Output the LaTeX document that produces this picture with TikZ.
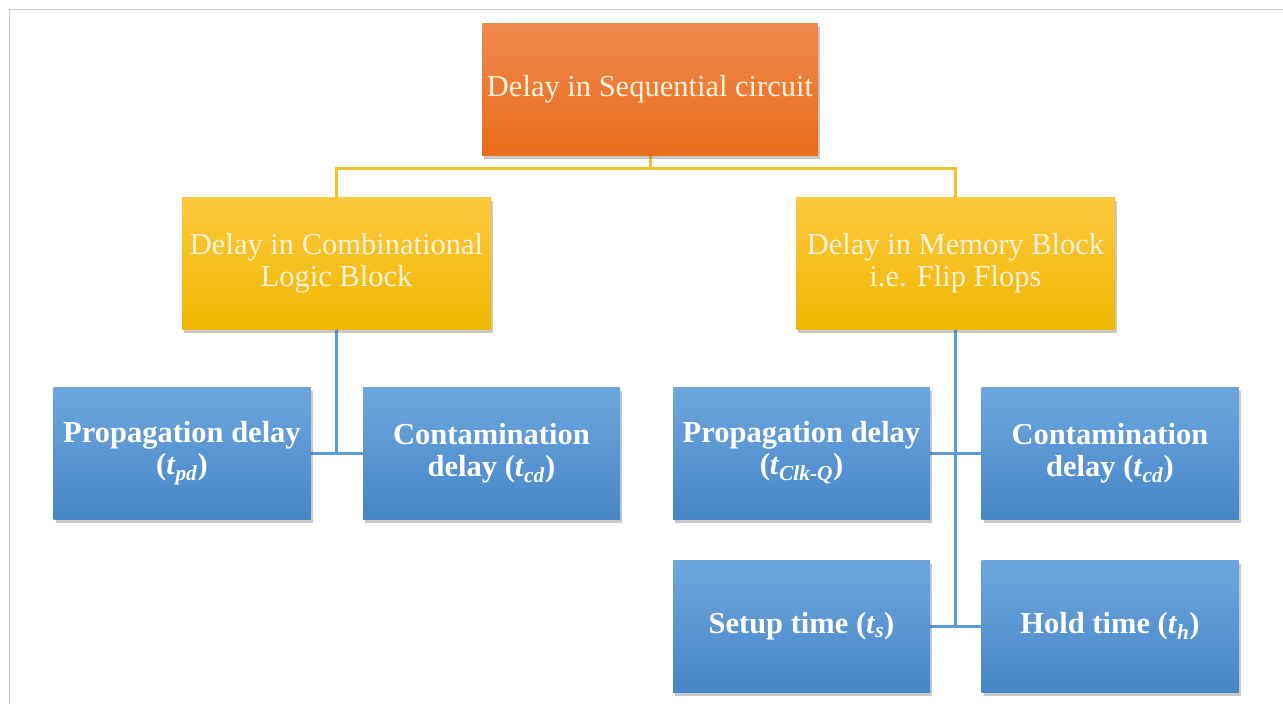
\documentclass[tikz,border=0pt]{standalone}
\usepackage{fontspec}
\setmainfont{Liberation Serif}
\usetikzlibrary{shadows,backgrounds}
\definecolor{orgtop}{HTML}{F08A4E}
\definecolor{orgbot}{HTML}{E96C1C}
\definecolor{goldtop}{HTML}{FCC83E}
\definecolor{goldbot}{HTML}{F0B700}
\definecolor{bluetop}{HTML}{6EA7DE}
\definecolor{bluebot}{HTML}{4685C6}
\definecolor{cream}{HTML}{FFF3DC}
\definecolor{yline}{HTML}{F2C12E}
\definecolor{bline}{HTML}{5B9BD5}
\definecolor{frame}{HTML}{C8C8C8}
\tikzset{
  box/.style={rectangle, inner sep=0pt, align=center, minimum height=132pt,
    drop shadow={shadow xshift=2pt, shadow yshift=-4pt, opacity=0.3, fill=black!70}},
  rootbox/.style={box, top color=orgtop, bottom color=orgbot, text=cream,
    font=\fontsize{30.5}{32}\selectfont},
  midbox/.style={box, top color=goldtop, bottom color=goldbot, text=cream,
    font=\fontsize{30.5}{32}\selectfont},
  leafbox/.style={box, top color=bluetop, bottom color=bluebot, text=white,
    minimum width=257pt, font=\fontsize{30.5}{32}\selectfont\bfseries},
  ylink/.style={draw=yline, line width=3pt},
  blink/.style={draw=bline, line width=3pt},
}
\newcommand{\tsub}[1]{\textit{t}\textsubscript{\textit{#1}}}
\begin{document}
\begin{tikzpicture}[x=1pt,y=-1pt]
\useasboundingbox (0,0) rectangle (1283,704);

\node[rootbox, minimum width=336pt] (root) at (650,89) {Delay in Sequential circuit};
\node[midbox, minimum width=309pt] (comb) at (336.5,263) {Delay in Combinational\\Logic Block};
\node[midbox, minimum width=319pt] (mem) at (955.5,263) {Delay in Memory Block\\i.e. Flip Flops};

\node[leafbox] (pd) at (182,453) {Propagation delay\\(\tsub{pd})};
\node[leafbox] (cd1) at (491.5,453) {Contamination\\delay (\tsub{cd})};
\node[leafbox] (clkq) at (801.5,453) {Propagation delay\\(\tsub{Clk-Q})};
\node[leafbox] (cd2) at (1110,453) {Contamination\\delay (\tsub{cd})};
\node[leafbox] (setup) at (801.5,626) {Setup time (\tsub{s})};
\node[leafbox] (hold) at (1110,626) {Hold time (\tsub{h})};

\begin{scope}[on background layer]
\fill[white] (0,0) rectangle (1283,704);
\draw[frame, line width=1.2pt] (1283,9.5) -- (9.5,9.5) -- (9.5,704);
\draw[ylink] (root.south) -- ++(0,13) -| (comb.north);
\draw[ylink] (root.south) -- ++(0,13) -| (mem.north);
\draw[blink] (comb.south) -- (comb.south |- pd.east);
\draw[blink] (pd.east) -- (cd1.west);
\draw[blink] (mem.south) -- (mem.south |- setup.east);
\draw[blink] (clkq.east) -- (cd2.west);
\draw[blink] (setup.east) -- (hold.west);
\end{scope}
\end{tikzpicture}
\end{document}
